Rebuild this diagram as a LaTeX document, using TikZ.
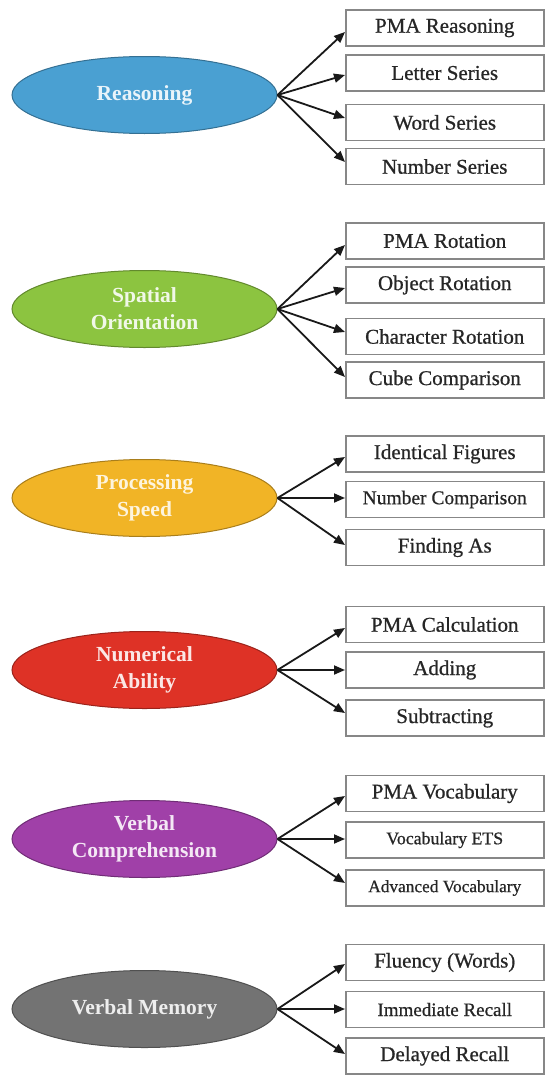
\documentclass[tikz,border=0pt]{standalone}
\usepackage{fontspec}
\setmainfont{Liberation Serif}
\newfontfamily\boxfont{Liberation Serif}[FakeBold=0.7]
\usetikzlibrary{arrows.meta,shapes.geometric}
\definecolor{cReason}{RGB}{74,160,210}
\definecolor{cSpatial}{RGB}{140,196,64}
\definecolor{cProc}{RGB}{241,180,38}
\definecolor{cNum}{RGB}{222,50,38}
\definecolor{cVerb}{RGB}{160,64,168}
\definecolor{cMem}{RGB}{115,115,115}
\definecolor{boxgray}{RGB}{135,135,135}
\begin{document}
\begin{tikzpicture}[x=1pt,y=-1pt,
  cat/.style={ellipse, minimum width=265pt, minimum height=77pt, inner sep=0pt,
    line width=1pt, font=\fontsize{21.5}{27}\selectfont\bfseries, align=center},
  sub/.style={draw=boxgray, line width=1.5pt, fill=white, minimum width=198pt,
    minimum height=36pt, inner sep=0pt, anchor=west,
    font=\boxfont\fontsize{21}{25}\selectfont, text=black!85},
  arr/.style={-{Triangle[length=11pt,width=9pt]}, line width=1.8pt, black!90}]
\fill[white] (0,0) rectangle (545,1076);
\useasboundingbox (0,0) rectangle (545,1076);

% Reasoning
\node[cat, fill=cReason, draw=cReason!70!black, text=white!88!cReason] (r) at (144.5,95) {Reasoning};
\node[sub] (r1) at (345,28) {PMA Reasoning};
\node[sub] (r2) at (345,73) {Letter Series};
\node[sub] (r3) at (345,122.5) {Word Series};
\node[sub] (r4) at (345,166.5) {Number Series};
\draw[arr] (r.east) -- ([yshift=-4pt]r1.west);
\draw[arr] (r.east) -- ([yshift=-2pt]r2.west);
\draw[arr] (r.east) -- ([yshift=4.5pt]r3.west);
\draw[arr] (r.east) -- ([yshift=4.5pt]r4.west);

% Spatial Orientation
\node[cat, fill=cSpatial, draw=cSpatial!70!black, text=white!88!cSpatial] (s) at (144.5,309) {Spatial\\Orientation};
\node[sub] (s1) at (345,241) {PMA Rotation};
\node[sub] (s2) at (345,285) {Object Rotation};
\node[sub] (s3) at (345,336.5) {Character Rotation};
\node[sub] (s4) at (345,380) {Cube Comparison};
\draw[arr] (s.east) -- ([yshift=-4pt]s1.west);
\draw[arr] (s.east) -- ([yshift=-3pt]s2.west);
\draw[arr] (s.east) -- ([yshift=4.5pt]s3.west);
\draw[arr] (s.east) -- ([yshift=3pt]s4.west);

% Processing Speed
\node[cat, fill=cProc, draw=cProc!70!black, text=white!85!cProc] (p) at (144.5,498) {Processing\\Speed};
\node[sub] (p1) at (345,454) {Identical Figures};
\node[sub, font=\boxfont\fontsize{19.5}{23}\selectfont] (p2) at (345,499.5) {Number Comparison};
\node[sub] (p3) at (345,547.5) {Finding As};
\draw[arr] (p.east) -- ([yshift=-3pt]p1.west);
\draw[arr] (p.east) -- ([yshift=1.5pt]p2.west);
\draw[arr] (p.east) -- ([yshift=2.5pt]p3.west);

% Numerical Ability
\node[cat, fill=cNum, draw=cNum!70!black, text=white!88!cNum] (n) at (144.5,670) {Numerical\\Ability};
\node[sub] (n1) at (345,624.5) {PMA Calculation};
\node[sub] (n2) at (345,670) {Adding};
\node[sub] (n3) at (345,718) {Subtracting};
\draw[arr] (n.east) -- ([yshift=-3.5pt]n1.west);
\draw[arr] (n.east) -- (n2.west);
\draw[arr] (n.east) -- ([yshift=5pt]n3.west);

% Verbal Comprehension
\node[cat, fill=cVerb, draw=cVerb!70!black, text=white!88!cVerb] (v) at (144.5,839) {Verbal\\Comprehension};
\node[sub] (v1) at (345,793.5) {PMA Vocabulary};
\node[sub, font=\boxfont\fontsize{17.8}{21}\selectfont] (v2) at (345,840) {Vocabulary ETS};
\node[sub, font=\boxfont\fontsize{17.3}{21}\selectfont] (v3) at (345,888) {Advanced Vocabulary};
\draw[arr] (v.east) -- ([yshift=-2.5pt]v1.west);
\draw[arr] (v.east) -- ([yshift=1pt]v2.west);
\draw[arr] (v.east) -- ([yshift=5pt]v3.west);

% Verbal Memory
\node[cat, fill=cMem, draw=cMem!70!black, text=white!88!cMem] (m) at (144.5,1009) {Verbal Memory};
\node[sub] (m1) at (345,962.5) {Fluency (Words)};
\node[sub, font=\boxfont\fontsize{19}{23}\selectfont] (m2) at (345,1009.5) {Immediate Recall};
\node[sub] (m3) at (345,1056) {Delayed Recall};
\draw[arr] (m.east) -- ([yshift=-1.5pt]m1.west);
\draw[arr] (m.east) -- ([yshift=0.5pt]m2.west);
\draw[arr] (m.east) -- ([yshift=2pt]m3.west);
\end{tikzpicture}
\end{document}
